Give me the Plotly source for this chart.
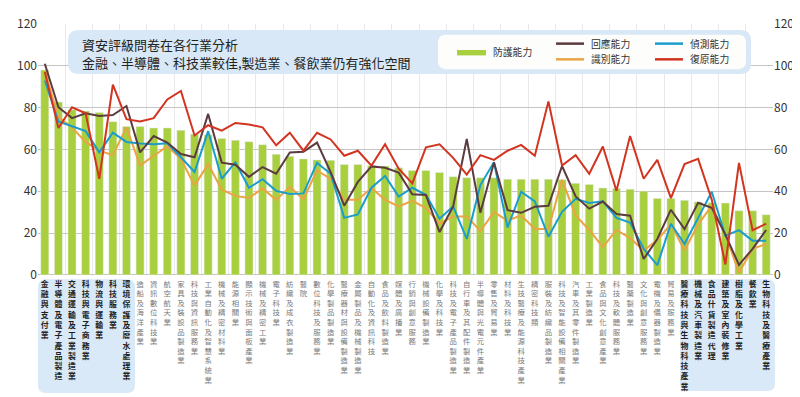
import plotly.graph_objects as go

categories = ["金融與支付業","半導體及電子產品製造","交通運輸及工業製造業","科技與電子商務業","物流與運輸業","科技服務業","環境保護及廢水處理業",
 "造船及海洋產業","資訊數位科技業","航空航天業","家具及裝設品製造業","科技與資訊服務業","工業自動化及智慧系統業","機械及精密材料業",
 "能源相關業","顯示技術與面板產業","機械及精密工業","電子科技業","紡織及成衣製造業","醫院","數位科技及服務業","化學製品製造業",
 "醫療器材與設備製造業","金屬製品及機械製造業","自動化及資訊科技","食品及飲料製造業","媒體及廣播業","行銷與創意服務","機械設備製造業",
 "化學及科技業","科技及電子產品製造業","自行車及其配件製造業","半導體與光電元件產業","零售及貿易業","材料及科技業","生技醫療及能源科技產業",
 "精密科技類","服裝及紡織品製造業","科技及智能設備相關產業","汽車及其零件製造業","工業製造業","食品與文化創意產業","科技及軟體服務業",
 "醫藥製造業","文化與創意服務業","電機及儀器製造業","貿易及服務業","醫療科技與生物科技產業","機械及汽車製造業","食品什貨製造代理",
 "建築及室內裝修業","樹脂及化學工業","餐飲業","生物科技及醫療產業"]

highlighted = categories[:7] + categories[-7:]

protect = [98,82.7,79,78.4,77.7,73.3,71,71,70.3,70.3,69.2,67.3,67,65.3,64.4,63.7,62.3,57.7,56.7,55.5,55,54.8,52.8,52.8,52.3,52.1,51.2,
           50,50,49,47,46.5,46.5,46.5,45.8,45.8,45.8,45.8,45.5,43.8,43.3,41.6,41.3,41,40.1,36.6,36.6,35.7,34.9,34.5,34.4,30.7,30.7,28.8]
recover = [97,70.3,80.2,77.3,46,91,74.5,73.4,75,83.9,88,66.7,71.6,69,72.7,71.9,70.6,62,68,59.4,68,64.8,57,59.4,52.3,62.5,50.8,
           43.75,61,62.5,56,48,57.3,55,59.4,62.2,57,83,52.3,57.3,48.4,61.4,40.2,66.4,46,55,36.7,53,55.5,36,5,53.6,21.4,24.5]
respond = [101,80.2,75,77.3,76,76.5,80.8,58.6,66.4,63.3,57.8,56.25,77,53.7,52.7,46.9,51.6,48.4,58.6,58.9,63.3,49.2,33.1,44.5,51.9,51.25,48.9,
           38.6,38.2,20.5,32.8,65,29.7,53.8,31,29.7,32.6,33.1,52.1,37.5,31.7,35.1,29.1,28.3,7.6,17.2,31.2,21.9,34.5,32.1,19.3,4.8,12.5,21.5]
detect = [93,73.4,71.1,68.75,58.6,68,63.6,62.8,62.5,63,56.25,49.2,68.75,46,53.9,41.7,45.8,40.2,38.75,39,53.6,48.4,27.3,28.9,41.7,47.3,37.5,
          41.7,38.3,26.9,32.8,17.2,43,53.9,22.7,39.8,35.2,18.3,30.2,36.4,34.4,35.2,27.3,25,12.5,4.7,24.5,14.8,27.3,39.8,18.75,21.4,16.4,16.4]
identify = [97.5,75.5,70.5,63.6,59.4,57.3,70.6,52.3,57,61.5,55.5,42.7,53,40.8,37.8,36.8,41.4,35.9,42.1,36.2,50,45.9,36,36,41.6,35.9,32.8,
            35.4,32,24.5,28,28,21,30,26,28.5,22,22,45.5,28.5,21.5,13.3,21.5,17.6,11.7,16.7,24.2,11.7,24.2,33,19.5,1,12.5,14.8]

y_ticks = [0, 20, 40, 60, 80, 100, 120]
title_lines = ["資安評級問卷在各行業分析", "金融、半導體、科技業較佳,製造業、餐飲業仍有強化空間"]
series_names = ["防護能力", "回應能力", "識別能力", "偵測能力", "復原能力"]

GREEN = "#a9cf3f"
BROWN = "#5b3b3f"
ORANGE = "#eaa443"
BLUE = "#1b9dcc"
RED = "#d2341f"
FONT = "Noto Sans CJK TC"

W, H = 800, 397
L, R, T, B = 30, 35, 16, 5
PW, PH = W - L - R, H - T - B
Y0 = 271.7  # pixel of value 0

def X(px):
    return (px - L) / PW

def Y(py):
    return (H - B - py) / PH

def rrect(x0, y0, x1, y1, r):
    p = [f"M {X(x0+r)},{Y(y0)}", f"L {X(x1-r)},{Y(y0)}", f"Q {X(x1)},{Y(y0)} {X(x1)},{Y(y0+r)}",
         f"L {X(x1)},{Y(y1-r)}", f"Q {X(x1)},{Y(y1)} {X(x1-r)},{Y(y1)}", f"L {X(x0+r)},{Y(y1)}",
         f"Q {X(x0)},{Y(y1)} {X(x0)},{Y(y1-r)}", f"L {X(x0)},{Y(y0+r)}", f"Q {X(x0)},{Y(y0)} {X(x0+r)},{Y(y0)}", "Z"]
    return " ".join(p)

fig = go.Figure()
fig.add_trace(go.Bar(x=categories, y=protect, marker_color=GREEN, name=series_names[0], showlegend=False, hoverinfo="skip"))
for vals, col, nm in [(identify, ORANGE, series_names[2]), (detect, BLUE, series_names[3]),
                      (respond, BROWN, series_names[1]), (recover, RED, series_names[4])]:
    fig.add_trace(go.Scatter(x=categories, y=vals, mode="lines", line=dict(color=col, width=2),
                             name=nm, showlegend=False, hoverinfo="skip"))
# right axis carrier
fig.add_trace(go.Scatter(x=[categories[0]], y=[0], yaxis="y2", mode="markers", marker=dict(opacity=0),
                         showlegend=False, hoverinfo="skip"))

# vertical stacked category labels (one text per category, characters stacked)
for hl in (False, True):
    xs = [c for c in categories if (c in highlighted) == hl]
    ts = ["<br>".join(list(c)) for c in xs]
    fig.add_trace(go.Scatter(x=xs, y=[277.5] * len(xs), text=ts, mode="text", xaxis="x2", yaxis="y3",
                             textposition="bottom center",
                             textfont=dict(family=FONT, size=7.9 if hl else 7.4,
                                           color="#1e1e1e" if hl else "#7a7a7a",
                                           weight="bold" if hl else "normal"),
                             showlegend=False, hoverinfo="skip"))

dom_bottom = Y(Y0)
fig.update_layout(
    width=W, height=H, margin=dict(l=L, r=R, t=T, b=B),
    paper_bgcolor="white", plot_bgcolor="rgba(0,0,0,0)",
    bargap=0.41, showlegend=False,
    font=dict(family=FONT, color="#333"),
    xaxis=dict(type="category", categoryorder="array", categoryarray=categories, range=[-0.5, len(categories)-0.5],
               showticklabels=False, ticks="", showgrid=True, tickson="boundaries", gridcolor="#e9e9e9",
               gridwidth=1, showline=False, zeroline=False, anchor="y", domain=[0, 1]),
    yaxis=dict(range=[0, 120], tickvals=y_ticks, domain=[dom_bottom, 1], showgrid=True, gridcolor="#c4c4c4",
               gridwidth=1, zeroline=True, zerolinecolor="#c4c4c4", zerolinewidth=1, ticks="",
               tickfont=dict(size=12, color="#333"), anchor="x"),
    yaxis2=dict(range=[0, 120], tickvals=y_ticks, overlaying="y", side="right", showgrid=False, zeroline=False,
                ticks="", tickfont=dict(size=12, color="#333"), anchor="x"),
    xaxis2=dict(type="category", categoryorder="array", categoryarray=categories, range=[-0.5, len(categories)-0.5],
                visible=False, anchor="y3", domain=[0, 1]),
    yaxis3=dict(range=[H - B, Y0], domain=[0, dom_bottom - 0.001], visible=False, anchor="x2"),
)

shapes = []
shapes.append(dict(type="path", xref="paper", yref="paper", path=rrect(30, 276, 127, 392, 8),
                   fillcolor="#d9e9f7", line=dict(width=0), layer="below"))
shapes.append(dict(type="path", xref="paper", yref="paper", path=rrect(672, 276, 767, 390, 8),
                   fillcolor="#d9e9f7", line=dict(width=0), layer="below"))
shapes.append(dict(type="path", xref="paper", yref="paper", path=rrect(60, 22, 743, 67, 11),
                   fillcolor="#d8e8f6", line=dict(width=0), layer="above"))
shapes.append(dict(type="path", xref="paper", yref="paper", path=rrect(430, 27, 738, 62, 8),
                   fillcolor="#fdfdfb", line=dict(width=0), layer="above"))
shapes.append(dict(type="rect", xref="paper", yref="paper", x0=X(449), x1=X(478), y0=Y(48), y1=Y(42.5),
                   fillcolor=GREEN, line=dict(width=0), layer="above"))
for (x0, yy, col) in [(548, 36, BROWN), (548, 52, ORANGE), (647, 36, BLUE), (647, 52, RED)]:
    shapes.append(dict(type="line", xref="paper", yref="paper", x0=X(x0), x1=X(x0 + 28), y0=Y(yy), y1=Y(yy),
                       line=dict(color=col, width=2.5), layer="above"))
fig.update_layout(shapes=shapes)

ann = []
ann.append(dict(xref="paper", yref="paper", x=X(72), y=Y(36.5), text=title_lines[0], showarrow=False,
                xanchor="left", yanchor="middle", font=dict(size=13, color="#222", family=FONT)))
ann.append(dict(xref="paper", yref="paper", x=X(72), y=Y(55), text=title_lines[1], showarrow=False,
                xanchor="left", yanchor="middle", font=dict(size=13, color="#222", family=FONT)))
for (x0, yy, nm) in [(483, 45, series_names[0]), (581, 36, series_names[1]), (581, 52, series_names[2]),
                     (680, 36, series_names[3]), (680, 52, series_names[4])]:
    ann.append(dict(xref="paper", yref="paper", x=X(x0), y=Y(yy), text=nm, showarrow=False,
                    xanchor="left", yanchor="middle", font=dict(size=9.8, color="#333", family=FONT)))
fig.update_layout(annotations=ann)

fig.write_html("out.html")
